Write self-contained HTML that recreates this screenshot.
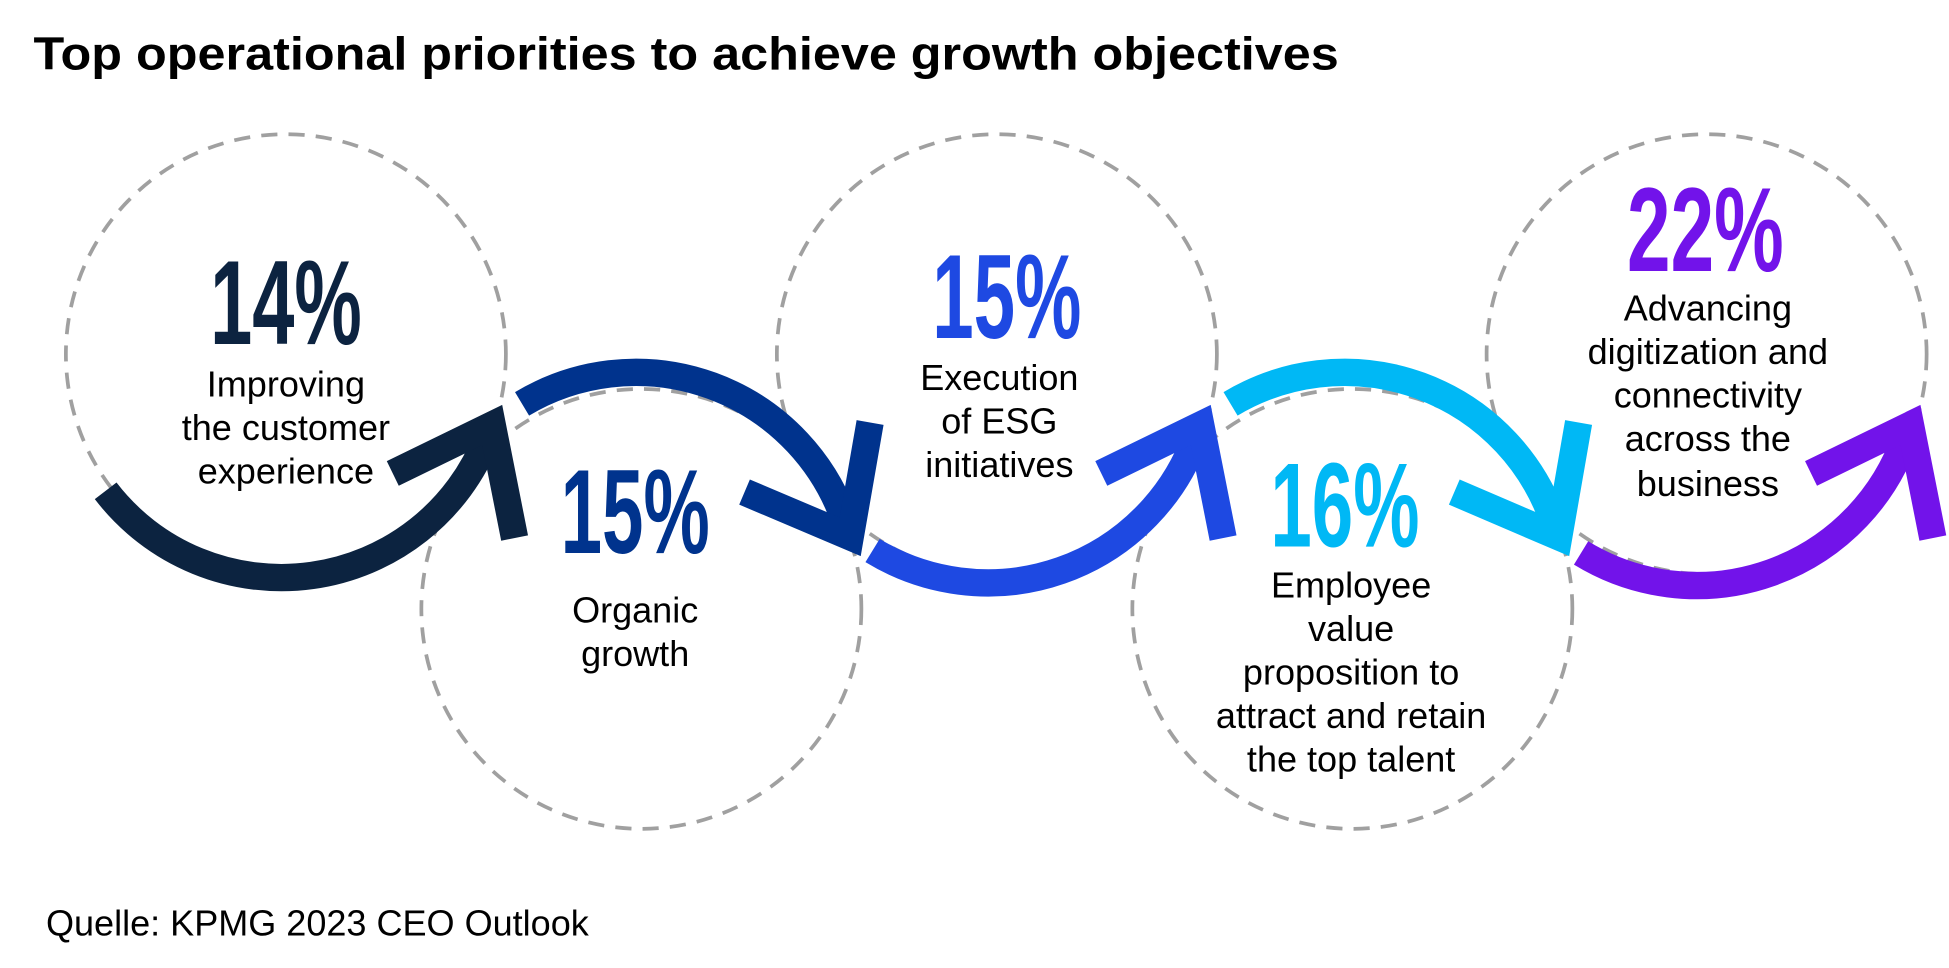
<!DOCTYPE html>
<html><head><meta charset="utf-8"><style>
html,body{margin:0;padding:0;background:#fff;}
svg{display:block;}
text{font-family:"Liberation Sans",sans-serif;}
</style></head><body>
<svg width="1949" height="968" viewBox="0 0 1568 779" preserveAspectRatio="none" xmlns="http://www.w3.org/2000/svg">
<rect width="1568" height="779" fill="#fff"/>
<text x="27" y="56" font-size="37" font-weight="bold" fill="#000" textLength="1050" lengthAdjust="spacingAndGlyphs">Top operational priorities to achieve growth objectives</text>
<g fill="none" stroke="#a0a0a0" stroke-width="3" stroke-dasharray="13,9">
<circle cx="230" cy="285" r="177"/>
<circle cx="516" cy="490" r="177"/>
<circle cx="802" cy="285" r="177"/>
<circle cx="1088" cy="490" r="177"/>
<circle cx="1373" cy="285" r="177"/>
</g>
<g fill="none" stroke-width="22" stroke-linecap="butt" stroke-linejoin="miter">
<path d="M85,395 A178,178 0 0 0 392,352" stroke="#0c2340"/>
<path d="M316,381 L396,342 L414,433" stroke="#0c2340"/>
<path d="M420,325 A178,178 0 0 1 680,420" stroke="#00338d"/>
<path d="M599,396 L684,432 L700,340" stroke="#00338d"/>
<path d="M702,443 A178,178 0 0 0 962,352" stroke="#1e49e2"/>
<path d="M886,381 L966,342 L984,433" stroke="#1e49e2"/>
<path d="M990,325 A178,178 0 0 1 1250,420" stroke="#00b8f5"/>
<path d="M1170,396 L1254,432 L1270,340" stroke="#00b8f5"/>
<path d="M1272,445 A178,178 0 0 0 1533,352" stroke="#7213ea"/>
<path d="M1457,381 L1537,342 L1555,433" stroke="#7213ea"/>
</g>
<g font-weight="bold" font-size="96" text-anchor="middle">
<text x="230" y="277" fill="#0c2340" textLength="122" lengthAdjust="spacingAndGlyphs">14%</text>
<text x="511" y="445" fill="#00338d" textLength="120" lengthAdjust="spacingAndGlyphs">15%</text>
<text x="810" y="272" fill="#1e49e2" textLength="120" lengthAdjust="spacingAndGlyphs">15%</text>
<text x="1082" y="440" fill="#00b8f5" textLength="120" lengthAdjust="spacingAndGlyphs">16%</text>
<text x="1372" y="218" fill="#7213ea" textLength="126" lengthAdjust="spacingAndGlyphs">22%</text>
</g>
<g font-size="29" text-anchor="middle" fill="#000">
<text x="230" y="319">Improving</text>
<text x="230" y="354">the customer</text>
<text x="230" y="389">experience</text>
<text x="511" y="501">Organic</text>
<text x="511" y="536">growth</text>
<text x="804" y="314">Execution</text>
<text x="804" y="349">of ESG</text>
<text x="804" y="384">initiatives</text>
<text x="1087" y="481">Employee</text>
<text x="1087" y="516">value</text>
<text x="1087" y="551">proposition to</text>
<text x="1087" y="586">attract and retain</text>
<text x="1087" y="621">the top talent</text>
<text x="1374" y="258">Advancing</text>
<text x="1374" y="293">digitization and</text>
<text x="1374" y="328">connectivity</text>
<text x="1374" y="363">across the</text>
<text x="1374" y="399">business</text>
</g>
<text x="37" y="753" font-size="29" fill="#000">Quelle: KPMG 2023 CEO Outlook</text>
</svg>
</body></html>
